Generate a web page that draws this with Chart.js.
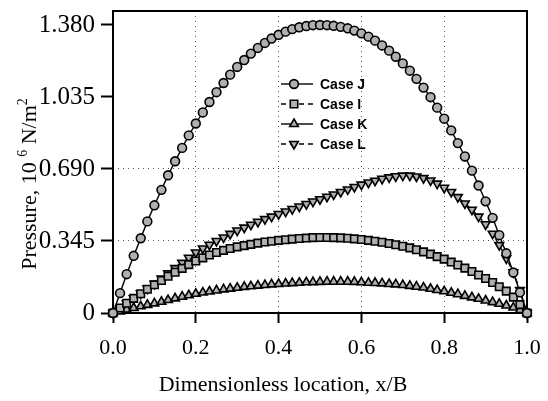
<!DOCTYPE html>
<html>
<head>
<meta charset="utf-8">
<script src="https://cdn.jsdelivr.net/npm/chart.js@4.4.0/dist/chart.umd.min.js"></script>
<style>
  html, body { margin: 0; padding: 0; background: #fff; }
</style>
</head>
<body>
<canvas id="pressureChart" width="548" height="401"></canvas>
<script>
// dimensionless location x/B of each sampled point
const xPos = [0, 0.017, 0.033, 0.050, 0.067, 0.083, 0.100, 0.117, 0.133, 0.150, 0.167, 0.183, 0.200, 0.217, 0.233, 0.250, 0.267, 0.283, 0.300, 0.317, 0.333, 0.350, 0.367, 0.383, 0.400, 0.417, 0.433, 0.450, 0.467, 0.483, 0.500, 0.517, 0.533, 0.550, 0.567, 0.583, 0.600, 0.617, 0.633, 0.650, 0.667, 0.683, 0.700, 0.717, 0.733, 0.750, 0.767, 0.783, 0.800, 0.817, 0.833, 0.850, 0.867, 0.883, 0.900, 0.917, 0.933, 0.950, 0.967, 0.983, 1.000];

// pressure, 10^6 N/m^2
const caseJ = [0, 0.095, 0.186, 0.274, 0.358, 0.439, 0.516, 0.590, 0.660, 0.727, 0.791, 0.851, 0.908, 0.961, 1.011, 1.058, 1.102, 1.142, 1.179, 1.212, 1.243, 1.270, 1.294, 1.315, 1.333, 1.348, 1.360, 1.369, 1.375, 1.379, 1.380, 1.379, 1.376, 1.371, 1.364, 1.353, 1.340, 1.324, 1.305, 1.282, 1.257, 1.228, 1.196, 1.161, 1.122, 1.080, 1.034, 0.984, 0.931, 0.875, 0.814, 0.750, 0.682, 0.611, 0.535, 0.456, 0.373, 0.286, 0.194, 0.099, 0];
const caseI = [0, 0.024, 0.047, 0.070, 0.092, 0.114, 0.135, 0.156, 0.176, 0.195, 0.214, 0.232, 0.249, 0.264, 0.278, 0.290, 0.300, 0.309, 0.317, 0.323, 0.329, 0.335, 0.340, 0.344, 0.348, 0.351, 0.354, 0.357, 0.359, 0.361, 0.362, 0.362, 0.361, 0.360, 0.358, 0.355, 0.352, 0.348, 0.344, 0.339, 0.333, 0.327, 0.320, 0.312, 0.303, 0.293, 0.282, 0.270, 0.258, 0.244, 0.230, 0.215, 0.199, 0.182, 0.165, 0.146, 0.126, 0.105, 0.076, 0.040, 0];
const caseK = [0, 0.008, 0.016, 0.024, 0.032, 0.039, 0.046, 0.054, 0.062, 0.070, 0.078, 0.085, 0.092, 0.098, 0.103, 0.108, 0.113, 0.117, 0.121, 0.125, 0.128, 0.131, 0.134, 0.137, 0.139, 0.141, 0.143, 0.145, 0.147, 0.148, 0.149, 0.150, 0.150, 0.150, 0.150, 0.149, 0.147, 0.145, 0.144, 0.142, 0.139, 0.137, 0.134, 0.130, 0.126, 0.122, 0.116, 0.110, 0.104, 0.097, 0.090, 0.082, 0.075, 0.068, 0.060, 0.052, 0.044, 0.036, 0.026, 0.014, 0];
const caseL = [0, 0.023, 0.047, 0.070, 0.093, 0.117, 0.140, 0.165, 0.190, 0.215, 0.240, 0.265, 0.290, 0.309, 0.327, 0.345, 0.362, 0.379, 0.395, 0.409, 0.423, 0.437, 0.450, 0.462, 0.474, 0.486, 0.498, 0.510, 0.522, 0.534, 0.545, 0.557, 0.568, 0.580, 0.592, 0.604, 0.615, 0.625, 0.634, 0.643, 0.650, 0.655, 0.658, 0.658, 0.654, 0.646, 0.635, 0.620, 0.600, 0.580, 0.555, 0.525, 0.495, 0.462, 0.425, 0.380, 0.325, 0.262, 0.195, 0.110, 0];

const xTicks = [0, 0.2, 0.4, 0.6, 0.8, 1.0];
const yTicks = [0, 0.345, 0.690, 1.035, 1.380];

const serif = '"Liberation Serif", "Times New Roman", serif';
const markerFill = '#b0b0b0';
const markerEdge = '#000';

function toPoints(vals) {
  return xPos.map((x, i) => ({ x: x, y: vals[i] }));
}

function series(label, vals, style, radius, dash, rotation) {
  return {
    label: label,
    data: toPoints(vals),
    borderColor: '#000',
    borderWidth: 1.4,
    borderDash: dash,
    pointStyle: style,
    pointRadius: radius,
    pointRotation: rotation || 0,
    pointBackgroundColor: markerFill,
    pointBorderColor: markerEdge,
    pointBorderWidth: 1.6,
    tension: 0,
    fill: false,
    clip: false
  };
}

const datasets = [
  series('Case J', caseJ, 'circle', 4.4, []),
  series('Case I', caseI, 'rect', 5.3, [5, 4]),
  series('Case K', caseK, 'triangle', 5, []),
  series('Case L', caseL, 'triangle', 5, [5, 4], 180)
];

const gridColor = c => (c.tick && (c.tick.value === 0 || c.tick.value >= 1.0)) ? 'rgba(0,0,0,0)' : '#555';

// legend rows, inside the plot
const legendY = [84, 104, 124, 144];

const decor = {
  id: 'decor',
  beforeDatasetsDraw(chart) {
    const { ctx, chartArea: a } = chart;
    ctx.save();
    ctx.strokeStyle = '#000';
    ctx.lineWidth = 2;
    ctx.strokeRect(a.left, a.top, a.right - a.left, a.bottom - a.top);
    ctx.restore();
  },
  afterDraw(chart) {
    const ctx = chart.ctx;
    ctx.save();

    chart.data.datasets.forEach((ds, i) => {
      const y = legendY[i];
      ctx.strokeStyle = '#000';
      ctx.lineWidth = 1.4;
      ctx.setLineDash(ds.borderDash);
      ctx.beginPath();
      ctx.moveTo(281, y);
      ctx.lineTo(313, y);
      ctx.stroke();
      ctx.setLineDash([]);
      ctx.fillStyle = ds.pointBackgroundColor;
      ctx.strokeStyle = ds.pointBorderColor;
      ctx.lineWidth = ds.pointBorderWidth;
      Chart.helpers.drawPoint(ctx, {
        pointStyle: ds.pointStyle,
        rotation: ds.pointRotation,
        radius: ds.pointRadius,
        borderWidth: ds.pointBorderWidth
      }, 294, y);
      ctx.fillStyle = '#000';
      ctx.font = 'bold 14px "Liberation Sans", Arial, sans-serif';
      ctx.textAlign = 'left';
      ctx.textBaseline = 'middle';
      ctx.fillText(ds.label, 320, y + 1);
    });

    // x axis title
    ctx.fillStyle = '#000';
    ctx.font = '22px ' + serif;
    ctx.textAlign = 'center';
    ctx.textBaseline = 'alphabetic';
    ctx.fillText('Dimensionless location, x/B', 283, 391);

    // y axis title with superscripts
    const parts = [
      { t: 'Pressure, 10 ', sup: false },
      { t: '6', sup: true },
      { t: ' N/m', sup: false },
      { t: '2', sup: true }
    ];
    const big = '22px ' + serif;
    const small = '14px ' + serif;
    let total = 0;
    parts.forEach(p => { ctx.font = p.sup ? small : big; p.w = ctx.measureText(p.t).width; total += p.w; });
    ctx.translate(36, 184);
    ctx.rotate(-Math.PI / 2);
    ctx.textAlign = 'left';
    let px = -total / 2;
    parts.forEach(p => {
      ctx.font = p.sup ? small : big;
      ctx.fillText(p.t, px, p.sup ? -9 : 0);
      px += p.w;
    });
    ctx.restore();
  }
};

new Chart(document.getElementById('pressureChart'), {
  type: 'line',
  data: { datasets: datasets },
  plugins: [decor],
  options: {
    responsive: false,
    devicePixelRatio: 1,
    animation: false,
    layout: { padding: { top: 11, right: 21, left: 0, bottom: 0 } },
    plugins: { legend: { display: false }, tooltip: { enabled: false } },
    scales: {
      x: {
        type: 'linear',
        min: 0,
        max: 1,
        afterBuildTicks: s => { s.ticks = xTicks.map(v => ({ value: v })); },
        afterFit: s => { s.height = 88; s.paddingLeft = 0; s.paddingRight = 0; },
        ticks: {
          color: '#000',
          font: { family: serif, size: 22 },
          padding: 12,
          maxRotation: 0,
          callback: v => v.toFixed(1)
        },
        grid: { color: gridColor, lineWidth: 1, tickLength: 10, tickColor: '#000', tickWidth: 2 },
        border: { display: false, dash: [1, 4] }
      },
      y: {
        type: 'linear',
        min: 0,
        max: 1.447,
        afterBuildTicks: s => { s.ticks = yTicks.map(v => ({ value: v })); },
        afterFit: s => { s.width = 113; s.paddingTop = 0; s.paddingBottom = 0; },
        ticks: {
          color: '#000',
          font: { family: serif, size: 25 },
          padding: 6,
          callback: v => v === 0 ? '0' : v.toFixed(3)
        },
        grid: { color: gridColor, lineWidth: 1, tickLength: 12, tickColor: '#000', tickWidth: 2 },
        border: { display: false, dash: [1, 4] }
      }
    }
  }
});
</script>
</body>
</html>
